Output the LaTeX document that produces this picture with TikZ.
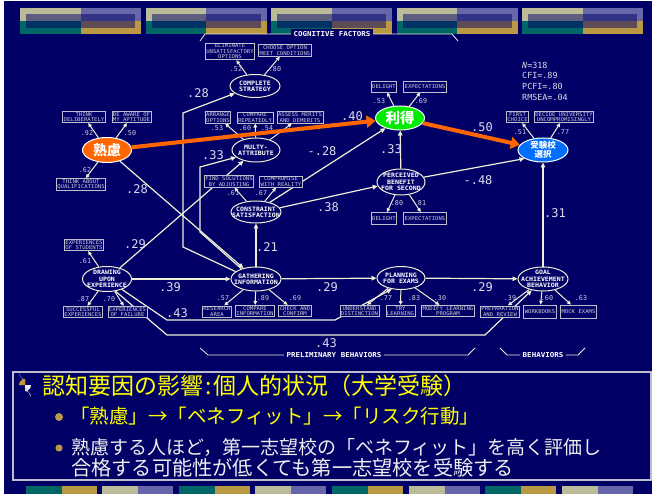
\documentclass[tikz,border=0pt]{standalone}
\usepackage{fontspec}
\setmonofont{DejaVu Sans Mono}
\newfontfamily\jp{Noto Sans CJK JP}
\newfontfamily\bxf[FakeStretch=1.08]{DejaVu Sans Mono}
\newfontfamily\elf[FakeStretch=1.1]{DejaVu Sans Mono}
\usetikzlibrary{shapes.geometric,arrows.meta}
\pgfdeclarelayer{bgl}
\pgfdeclarelayer{lines}
\pgfsetlayers{bgl,lines,main}
\definecolor{bg}{RGB}{0,0,102}
\definecolor{cream}{RGB}{240,240,215}
\definecolor{boxc}{RGB}{190,190,205}
\definecolor{boxt}{RGB}{205,205,220}
\definecolor{coef}{RGB}{220,220,235}
\definecolor{org}{RGB}{255,102,0}
\definecolor{grn}{RGB}{0,235,0}
\definecolor{blu}{RGB}{0,110,255}
\definecolor{khaki}{RGB}{187,187,153}
\definecolor{lav}{RGB}{102,102,170}
\definecolor{tl}{RGB}{0,102,102}
\definecolor{gd}{RGB}{187,153,68}
\definecolor{yel}{RGB}{255,255,0}
\definecolor{wt}{RGB}{238,238,238}
\tikzset{
  bx/.style={draw=boxc, fill=bg, line width=0.7pt, inner xsep=1pt, inner ysep=1pt,
     font=\bxf\fontsize{5.2}{5.4}\selectfont, text=boxt, align=center},
  el/.style={ellipse, draw=cream, fill=bg, line width=1pt, inner sep=0},
  et/.style={font=\elf\bfseries\fontsize{6}{6.2}\selectfont, text=white, align=center, inner sep=0},
  ld/.style={font=\ttfamily\fontsize{6.7}{6.7}\selectfont, text=boxt, inner sep=0},
  cf/.style={font=\ttfamily\fontsize{12}{12}\selectfont, text=coef, inner sep=0},
  ar/.style={draw=cream, line width=1.2pt, -{Triangle[length=5pt,width=4.5pt]}},
  ms/.style={draw=cream, line width=1pt, -{Triangle[length=4pt,width=3.6pt]}},
  bigar/.style={draw=org, line width=4pt, -{Triangle[length=9pt,width=12pt]}},
  grp/.style={font=\elf\bfseries\fontsize{6.8}{6.8}\selectfont, text=white, fill=bg, inner xsep=3pt, inner ysep=2pt},
  brk/.style={draw=cream, line width=0.8pt},
  st/.style={font=\ttfamily\fontsize{8.4}{8.4}\selectfont, text=coef, anchor=west, inner sep=0},
}
\begin{document}
\begin{tikzpicture}[x=1pt,y=-1pt]
\useasboundingbox (0,0) rectangle (655,494);
\begin{pgfonlayer}{bgl}
  \fill[white] (0,0) rectangle (655,494);
  \fill[bg] (4,1) rectangle (652,494);
  \foreach \i in {0,...,4} {
    \pgfmathsetmacro\xx{20+125.5*\i}
    \fill[khaki] (\xx,8) rectangle ++(60.5,13);
    \fill[lav] (\xx+60.5,8) rectangle ++(60.5,13);
    \fill[tl] (\xx,21) rectangle ++(60.5,13);
    \fill[gd] (\xx+60.5,21) rectangle ++(60.5,13);
    \fill[bg, opacity=0.5] (\xx+6,14) rectangle (\xx+115,28);
  }
  \foreach \xx/\ca/\cb in {26/tl/gd,102/khaki/lav,179/tl/gd,255/khaki/lav,332/tl/gd,409/khaki/lav,485/tl/gd,562/khaki/lav} {
    \fill[\ca] (\xx,486) rectangle ++(35.5,8);
    \fill[\cb] (\xx+35.5,486) rectangle ++(35.5,8);
  }
  % group brackets
  \draw[brk] (200,41) -- (205,34) -- (452,34) -- (458,41);
  \draw[brk] (200,348) -- (208,355) -- (468,355) -- (475,348);
  \draw[brk] (500,348) -- (507,355) -- (578,355) -- (585,348);
\end{pgfonlayer}

% group labels
\node[grp] (gcog) at (332,34) {COGNITIVE FACTORS};
\node[grp] (gpre) at (334,355) {PRELIMINARY BEHAVIORS};
\node[grp] (gbeh) at (543,355) {BEHAVIORS};

% latent variables
\node[el, minimum width=50pt, minimum height=23pt] (CS) at (255,86) {};
\node[et] (CSt) at (CS) {COMPLETE\\STRATEGY};
\node[el, minimum width=48pt, minimum height=24pt] (MA) at (256,150) {};
\node[et] (MAt) at (MA) {MULTY-\\ATTRIBUTE};
\node[el, minimum width=50pt, minimum height=22pt] (CON) at (256,212) {};
\node[et] (CONt) at (CON) {CONSTRAINT\\SATISFACTION};
\node[el, minimum width=50pt, minimum height=24pt] (GI) at (256,279) {};
\node[et] (GIt) at (GI) {GATHERING\\INFORMATION};
\node[el, draw=white, fill=org, minimum width=49pt, minimum height=25pt] (JK) at (107,150) {};
\node[font=\jp\bfseries\fontsize{14}{14}\selectfont, text=white, inner sep=0] (JKt) at (JK) {熟慮};
\node[el, minimum width=49pt, minimum height=25pt] (DE) at (107,279) {};
\node[et] (DEt) at (DE) {DRAWING\\UPON\\EXPERIENCE};
\node[el, draw=white, fill=grn, minimum width=49pt, minimum height=24pt] (RT) at (400,118) {};
\node[font=\jp\bfseries\fontsize{14.5}{14.5}\selectfont, text=white, inner sep=0] (RTt) at (RT) {利得};
\node[el, minimum width=48pt, minimum height=26pt] (PB) at (401,182) {};
\node[et] (PBt) at (PB) {PERCEIVED\\BENEFIT\\FOR SECOND};
\node[el, draw=white, fill=blu, minimum width=50pt, minimum height=24pt] (JS) at (543,150) {};
\node[font=\jp\bfseries\fontsize{8.5}{9}\selectfont, text=white, inner sep=0, align=center] (JSt) at (JS) {受験校\\選択};
\node[el, minimum width=48pt, minimum height=23pt] (PL) at (401,278) {};
\node[et] (PLt) at (PL) {PLANNING\\FOR EXAMS};
\node[el, minimum width=50pt, minimum height=24pt] (GA) at (543,279) {};
\node[et] (GAt) at (GA) {GOAL\\ACHIEVEMENT\\BEHAVIOR};

% observed variables
\node[bx] (b1) at (230,51.5) {ELIMINATE\\UNSATISFACTORY\\OPTIONS};
\node[bx] (b2) at (285,50.5) {CHOOSE OPTION\\MEET CONDITIONS};
\node[bx] (b3) at (218,117.5) {ARRANGE\\OPTIONS};
\node[bx] (b4) at (255,117.5) {COMPARE\\REPEATEDLY};
\node[bx] (b5) at (300,117.5) {ASSESS MERITS\\AND DEMERITS};
\node[bx] (b6) at (229,181.5) {FIND SOLUTIONS\\BY ADJUSTING};
\node[bx] (b7) at (281,181.5) {COMPROMISE\\WITH REALITY};
\node[bx] (b8) at (217,311.5) {RESEARCH\\AREA};
\node[bx] (b9) at (255,311) {COMPARE\\INFORMATION};
\node[bx] (b10) at (295,311) {CHECK AND\\CONFIRM};
\node[bx] (b11) at (84,117) {THINK\\DELIBERATELY};
\node[bx] (b12) at (131.5,117) {BE AWARE OF\\MY APTITUDE};
\node[bx] (b13) at (81,184.5) {THINK ABOUT\\QUALIFICATIONS};
\node[bx] (b14) at (84,245) {EXPERIENCES\\OF STUDENTS};
\node[bx] (b15) at (83,312) {SUCCESSFUL\\EXPERIENCES};
\node[bx] (b16) at (127.5,312) {EXPERIENCES\\OF FAILURE};
\node[bx, minimum height=11pt] (b17) at (384,86.5) {DELIGHT};
\node[bx, minimum height=11pt] (b18) at (425,86.5) {EXPECTATIONS};
\node[bx, minimum height=12pt] (b19) at (384,218.5) {DELIGHT};
\node[bx, minimum height=12pt] (b20) at (425,218.5) {EXPECTATIONS};
\node[bx] (b21) at (517.5,117) {FIRST\\CHOICE};
\node[bx] (b22) at (564,117) {DECIDE UNIVERSITY\\UNCOMPROMISINGLY};
\node[bx] (b23) at (359.5,311) {UNDERSTAND\\DISTINCTION};
\node[bx] (b24) at (400.5,311) {TRY\\LEARNING};
\node[bx] (b25) at (448,311) {MODIFY LEARNING\\PROGRAM};
\node[bx] (b26) at (500,311.5) {PREPARATION\\AND REVIEW};
\node[bx, minimum height=13pt] (b27) at (540,311.5) {WORKBOOKS};
\node[bx, minimum height=13pt] (b28) at (578.5,311.5) {MOCK EXAMS};

% waypoints
\coordinate (w1) at (183,247);
\coordinate (w2) at (183,113);
\coordinate (w3) at (200,232);
\coordinate (w4) at (200,167);
\coordinate (w5) at (167,320);
\coordinate (w6) at (335,320);
\coordinate (w7) at (167,335);
\coordinate (w8) at (485,335);

\begin{pgfonlayer}{lines}
  % measurement arrows
  \draw[ms] (CS) -- (b1);
  \draw[ms] (CS) -- (b2);
  \draw[ms] (MA) -- (b3);
  \draw[ms] (MA) -- (b4);
  \draw[ms] (MA) -- (b5);
  \draw[ms] (CON) -- (b6);
  \draw[ms] (CON) -- (b7);
  \draw[ms] (GI) -- (b8);
  \draw[ms] (GI) -- (b9);
  \draw[ms] (GI) -- (b10);
  \draw[ms] (JK) -- (b11);
  \draw[ms] (JK) -- (b12);
  \draw[ms] (JK) -- (b13);
  \draw[ms] (DE) -- (b14);
  \draw[ms] (DE) -- (b15);
  \draw[ms] (DE) -- (b16);
  \draw[ms] (RT) -- (b17);
  \draw[ms] (RT) -- (b18);
  \draw[ms] (PB) -- (b19);
  \draw[ms] (PB) -- (b20);
  \draw[ms] (JS) -- (b21);
  \draw[ms] (JS) -- (b22);
  \draw[ms] (PL) -- (b23);
  \draw[ms] (PL) -- (b24);
  \draw[ms] (PL) -- (b25);
  \draw[ms] (GA) -- (b26);
  \draw[ms] (GA) -- (b27);
  \draw[ms] (GA) -- (b28);
  % structural paths
  \draw[ar] (GI.160) -- (w1) -- (w2) -- (CS.200);
  \draw[ar] (GI.145) -- (w3) -- (w4) -- (MA.200);
  \draw[ar] (DE) -- (MA);
  \draw[ar] (JK) -- (GI);
  \draw[ar] (DE) -- (GI);
  \draw[ar] (GI) -- (CON);
  \draw[ar] (GI) -- (PL);
  \draw[ar] (PL) -- (GA);
  \draw[ar] (GA) -- (JS);
  \draw[ar] (CON.35) -- (RT.215);
  \draw[ar] (CON.10) -- (PB.190);
  \draw[ar] (PB) -- (RT);
  \draw[ar] (PB.12) -- (JS.205);
  \draw[ar] (DE.-35) -- (w5) -- (w6) -- (PL.230);
  \draw[ar] (DE.-55) -- (w7) -- (w8) -- (GA.225);
\end{pgfonlayer}

% key paths
\draw[bigar] (JK) -- (RT);
\draw[bigar] (RT) -- (JS);

% loadings
\node[ld] (l1) at (236,69) {.52};
\node[ld] (l2) at (275,69) {.80};
\node[ld] (l3) at (217,128) {.53};
\node[ld] (l4) at (245,128) {.60};
\node[ld] (l5) at (267,128) {.54};
\node[ld] (l6) at (233,193) {.61};
\node[ld] (l7) at (261,193) {.67};
\node[ld] (l8) at (223,298.5) {.57};
\node[ld] (l9) at (263,298.5) {.89};
\node[ld] (l10) at (295,298.5) {.69};
\node[ld] (l11) at (87,133) {.92};
\node[ld] (l12) at (130,133) {.50};
\node[ld] (l13) at (85,170) {.62};
\node[ld] (l14) at (85,261) {.61};
\node[ld] (l15) at (83,299) {.87};
\node[ld] (l16) at (109,299) {.70};
\node[ld] (l17) at (379,101) {.53};
\node[ld] (l18) at (421,101) {.69};
\node[ld] (l19) at (397,203) {.80};
\node[ld] (l20) at (420,203) {.81};
\node[ld] (l21) at (520,132) {.51};
\node[ld] (l22) at (563,132) {.77};
\node[ld] (l23) at (386,298.5) {.77};
\node[ld] (l24) at (414,298.5) {.83};
\node[ld] (l25) at (440,298.5) {.30};
\node[ld] (l26) at (510,298.5) {.39};
\node[ld] (l27) at (547,298.5) {.60};
\node[ld] (l28) at (581,298.5) {.63};

% path coefficients
\node[cf] (c1) at (198,93) {.28};
\node[cf] (c2) at (213,155) {.33};
\node[cf] (c3) at (352,116) {.40};
\node[cf] (c4) at (482,127) {.50};
\node[cf] (c5) at (322,151) {-.28};
\node[cf] (c6) at (391,149) {.33};
\node[cf] (c7) at (478,180) {-.48};
\node[cf] (c8) at (328,207) {.38};
\node[cf] (c9) at (137,189) {.28};
\node[cf] (c10) at (135,244) {.29};
\node[cf] (c11) at (267,247) {.21};
\node[cf] (c12) at (170,287) {.39};
\node[cf] (c13) at (327,287) {.29};
\node[cf] (c14) at (482,287) {.29};
\node[cf] (c15) at (177,313) {.43};
\node[cf] (c16) at (326,343) {.43};
\node[cf] (c17) at (555,213) {.31};

% fit statistics
\node[st] (s1) at (522,65) {\textit{N}=318};
\node[st] (s2) at (522,75.5) {CFI=.89};
\node[st] (s3) at (522,86) {PCFI=.80};
\node[st] (s4) at (522,97) {RMSEA=.04};

% text panel
\node[draw=boxc, line width=1.2pt, minimum width=638pt, minimum height=108pt, inner sep=0] (panel) at (332,426) {};
\fill[lav!80!white] (25,385) -- ++(0,-6) arc[start angle=90,end angle=180,radius=6] -- cycle;
\fill[wt] (25,385) -- ++(6,0) arc[start angle=0,end angle=90,radius=6] -- cycle;
\fill[gd!80!orange] (25,385) -- ++(-6,0) arc[start angle=180,end angle=270,radius=6] -- cycle;
\fill[wt!85!gray] (25,385) -- ++(0,6) arc[start angle=270,end angle=360,radius=6] -- cycle;
\fill[gd] (59,417) circle[radius=4];
\fill[gd] (59,448) circle[radius=3.6];
\node[anchor=west, text=yel, inner sep=0, font=\jp\fontsize{23}{23}\selectfont] (t1) at (42,386) {認知要因の影響\hspace{0.08em}:\hspace{0.08em}個人的状況（大学受験）};
\node[anchor=west, text=yel, inner sep=0, font=\jp\fontsize{19.5}{19.5}\selectfont] (t2) at (70,416) {「熟慮」→「ベネフィット」→「リスク行動」};
\node[anchor=west, text=wt, inner sep=0, font=\jp\fontsize{19}{19}\selectfont] (t3) at (71,447) {熟慮する人ほど，第一志望校の「ベネフィット」を高く評価し};
\node[anchor=west, text=wt, inner sep=0, font=\jp\fontsize{20.2}{20.2}\selectfont] (t4) at (71,468) {合格する可能性が低くても第一志望校を受験する};
\end{tikzpicture}
\end{document}
